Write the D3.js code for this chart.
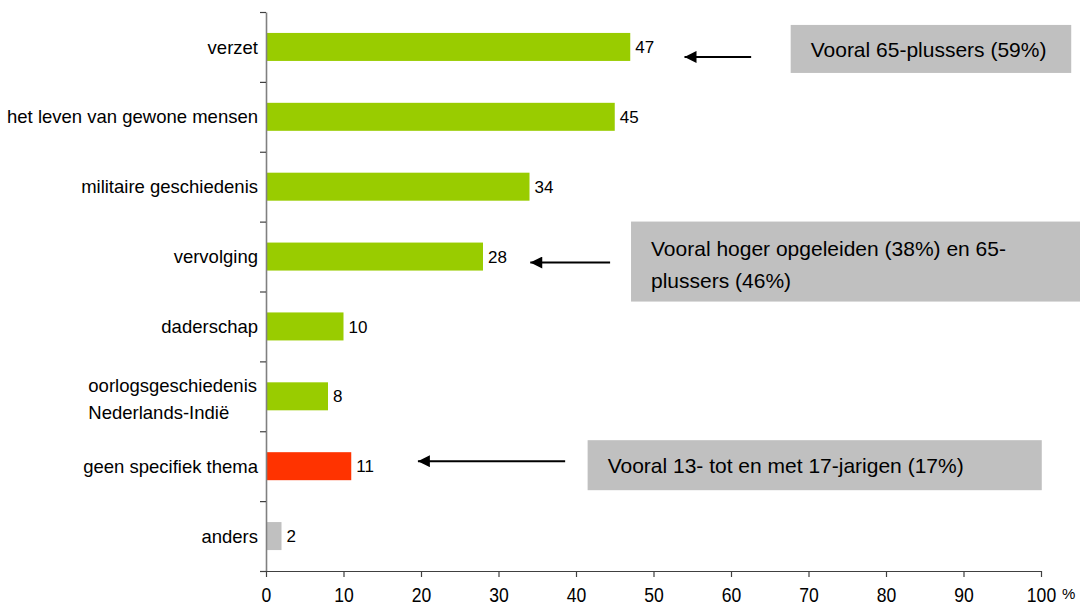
<!DOCTYPE html>
<html><head><meta charset="utf-8">
<script src="https://cdn.jsdelivr.net/npm/d3@7"></script>
<style>
html,body{margin:0;padding:0;background:#fff;}
svg{display:block;font-family:"Liberation Sans",Arial,sans-serif;}
</style></head>
<body><svg id="c" width="1080" height="605"></svg>
<script>
const categories = ["verzet","het leven van gewone mensen","militaire geschiedenis","vervolging","daderschap","oorlogsgeschiedenis\nNederlands-Indië","geen specifiek thema","anders"];
const values = [47,45,34,28,10,8,11,2];
const barColors = ["#99cc00","#99cc00","#99cc00","#99cc00","#99cc00","#99cc00","#ff3300","#c0c0c0"];
const xTicks = [0,10,20,30,40,50,60,70,80,90,100];
const annotations = [
  {cat:"verzet", lines:["Vooral 65-plussers (59%)"], arrowFrom:62.6, arrowTo:54, boxFrom:67.7, boxTo:103.9},
  {cat:"vervolging", lines:["Vooral hoger opgeleiden (38%) en 65-","plussers (46%)"], arrowFrom:44.4, arrowTo:34.1, boxFrom:47.1, boxTo:105.2},
  {cat:"geen specifiek thema", lines:["Vooral 13- tot en met 17-jarigen (17%)"], arrowFrom:38.6, arrowTo:19.6, boxFrom:41.5, boxTo:100.1}
];
const annoLayout = [
  {boxDy:2, boxH:48, arrowDy:10, textDy:[1]},
  {boxDy:5, boxH:80, arrowDy:6, textDy:[-13,19]},
  {boxDy:-1, boxH:50, arrowDy:-5, textDy:[0]}
];

const svg = d3.select("#c");
const x = d3.scaleLinear().domain([0,100]).range([266,1041]);
const y = d3.scaleBand().domain(categories).range([12,571]).padding(0);
const barH = 28;

// bars
svg.append("g").selectAll("rect").data(categories).join("rect")
  .attr("x", x(0))
  .attr("y", d => y(d) + y.bandwidth()/2 - barH/2)
  .attr("width", (d,i) => x(values[i]) - x(0))
  .attr("height", barH)
  .attr("fill", (d,i) => barColors[i]);

// value labels
svg.append("g").selectAll("text").data(categories).join("text")
  .attr("x", (d,i) => x(values[i]) + 5)
  .attr("y", d => y(d) + y.bandwidth()/2)
  .attr("dy", "0.36em")
  .attr("font-size", 17)
  .attr("fill", "#000")
  .text((d,i) => values[i]);

// y axis (ticks at category boundaries)
const yb = d3.scaleLinear().domain([0, categories.length]).range([12,571]);
const yAxis = svg.append("g").attr("transform", `translate(${x(0)},0)`)
  .call(d3.axisLeft(yb).tickValues(d3.range(0, categories.length+1)).tickFormat("").tickSize(6).tickSizeOuter(0));
yAxis.select(".domain").attr("stroke","#808080").attr("stroke-width",1.6);
yAxis.selectAll(".tick line").attr("stroke","#404040").attr("stroke-width",1.2);

// x axis
const xAxis = svg.append("g").attr("transform", `translate(0,571)`)
  .call(d3.axisBottom(x).tickValues(xTicks).tickSize(6).tickSizeOuter(0).tickPadding(11));
xAxis.select(".domain").attr("stroke","#404040").attr("stroke-width",1.2);
xAxis.selectAll(".tick line").attr("stroke","#404040").attr("stroke-width",1.2);
xAxis.selectAll(".tick text").attr("font-size",19.5).attr("fill","#000")
  .attr("font-family","'Liberation Sans',Arial,sans-serif")
  .attr("transform","scale(0.9,1)");
svg.append("text").attr("x", x(100)+21).attr("y", 599)
  .attr("font-size", 15).attr("fill","#000").text("%");

// category labels
const labG = svg.append("g");
categories.forEach(c => {
  const parts = c.split("\n");
  const cy = y(c) + y.bandwidth()/2;
  if (parts.length === 1) {
    labG.append("text").attr("x", 258).attr("y", cy).attr("dy","0.36em")
      .attr("text-anchor","end").attr("font-size",18.5).attr("fill","#000").text(c);
  } else {
    const t = labG.append("text").attr("font-size",18.5).attr("fill","#000");
    const t1 = t.append("tspan").attr("y", cy - 11).attr("dy","0.36em").text(parts[0]);
    const w = t1.node().getComputedTextLength();
    t1.attr("x", 257 - w);
    t.append("tspan").attr("x", 257 - w).attr("y", cy + 16).attr("dy","0.36em").text(parts[1]);
  }
});

// annotations
const defs = svg.append("defs");
defs.append("marker").attr("id","ah").attr("viewBox","0 0 10 10").attr("refX",10).attr("refY",5)
  .attr("markerWidth",7.5).attr("markerHeight",6).attr("markerUnits","strokeWidth").attr("orient","auto")
  .append("path").attr("d","M0,0 L10,5 L0,10 Z").attr("fill","#000");
annotations.forEach((a,i) => {
  const L = annoLayout[i];
  const cy = y(a.cat) + y.bandwidth()/2;
  const g = svg.append("g");
  g.append("rect").attr("x", x(a.boxFrom)).attr("y", cy + L.boxDy - L.boxH/2)
    .attr("width", x(a.boxTo) - x(a.boxFrom)).attr("height", L.boxH).attr("fill","#c0c0c0");
  a.lines.forEach((ln,j) => {
    g.append("text").attr("x", x(a.boxFrom) + 20).attr("y", cy + L.boxDy + L.textDy[j])
      .attr("dy","0.36em").attr("font-size",21).attr("fill","#000").text(ln);
  });
  g.append("line").attr("x1", x(a.arrowFrom)).attr("x2", x(a.arrowTo))
    .attr("y1", cy + L.arrowDy).attr("y2", cy + L.arrowDy)
    .attr("stroke","#000").attr("stroke-width",2).attr("marker-end","url(#ah)");
});
</script></body></html>
